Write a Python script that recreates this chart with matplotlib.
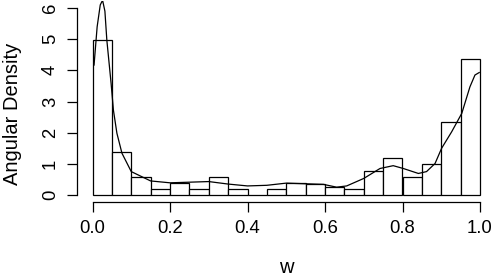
import numpy as np
import matplotlib
matplotlib.use("Agg")
import matplotlib.pyplot as plt

plt.rcParams['font.family'] = ['Liberation Sans', 'DejaVu Sans']

#%% DATA
bin_edges = np.linspace(0, 1, 21)
bin_heights = [4.96, 1.37, 0.57, 0.18, 0.38, 0.18, 0.57, 0.18, 0.0, 0.18,
               0.38, 0.36, 0.25, 0.19, 0.76, 1.18, 0.57, 0.98, 2.35, 4.35]

# density curve
curve_w = [0.004, 0.012, 0.020, 0.026, 0.032, 0.037, 0.048, 0.054, 0.063, 0.076,
           0.100, 0.150, 0.200, 0.300, 0.350, 0.400, 0.450, 0.500, 0.596, 0.630,
           0.656, 0.700, 0.742, 0.776, 0.802, 0.841, 0.862, 0.884, 0.901, 0.927,
           0.953, 0.974, 0.987, 0.998]
curve_d = [4.17, 5.40, 6.10, 6.25, 5.90, 4.97, 3.58, 2.72, 1.98, 1.34,
           0.75, 0.45, 0.39, 0.43, 0.35, 0.29, 0.31, 0.38, 0.34, 0.25,
           0.29, 0.53, 0.85, 0.94, 0.85, 0.69, 0.75, 1.01, 1.50, 2.03,
           2.62, 3.47, 3.85, 3.93]

#%% PLOT
fig = plt.figure(figsize=(5, 2.8), dpi=100)
ax = fig.add_axes([0.154, 0.277, 0.837, 0.721])

ax.bar(bin_edges[:-1], bin_heights, width=np.diff(bin_edges), align='edge',
       color='white', edgecolor='black', linewidth=0.9)
ax.plot(curve_w, curve_d, color='black', linewidth=0.9)

ax.set_xlim(-0.04, 1.04)
ax.set_ylim(-0.24, 6.24)

for s in ['top', 'right']:
    ax.spines[s].set_visible(False)
ax.spines['left'].set_bounds(0, 6)
ax.spines['bottom'].set_bounds(0, 1)
ax.spines['left'].set_position(('data', -0.04))
ax.spines['bottom'].set_position(('data', -0.24))
for s in ['left', 'bottom']:
    ax.spines[s].set_linewidth(0.9)

ax.set_xticks([0, 0.2, 0.4, 0.6, 0.8, 1.0])
ax.set_xticklabels(['0.0', '0.2', '0.4', '0.6', '0.8', '1.0'])
ax.set_yticks(range(7))
ax.tick_params(axis='both', labelsize=13.3, length=7, width=0.9, pad=6)
plt.setp(ax.get_yticklabels(), rotation=90, va='center')

ax.set_xlabel('w', fontsize=14.5, labelpad=15)
ax.set_ylabel('Angular Density', fontsize=14.5)
ax.yaxis.set_label_coords(-0.132, 0.44)

fig.savefig('out.png', dpi=100)
